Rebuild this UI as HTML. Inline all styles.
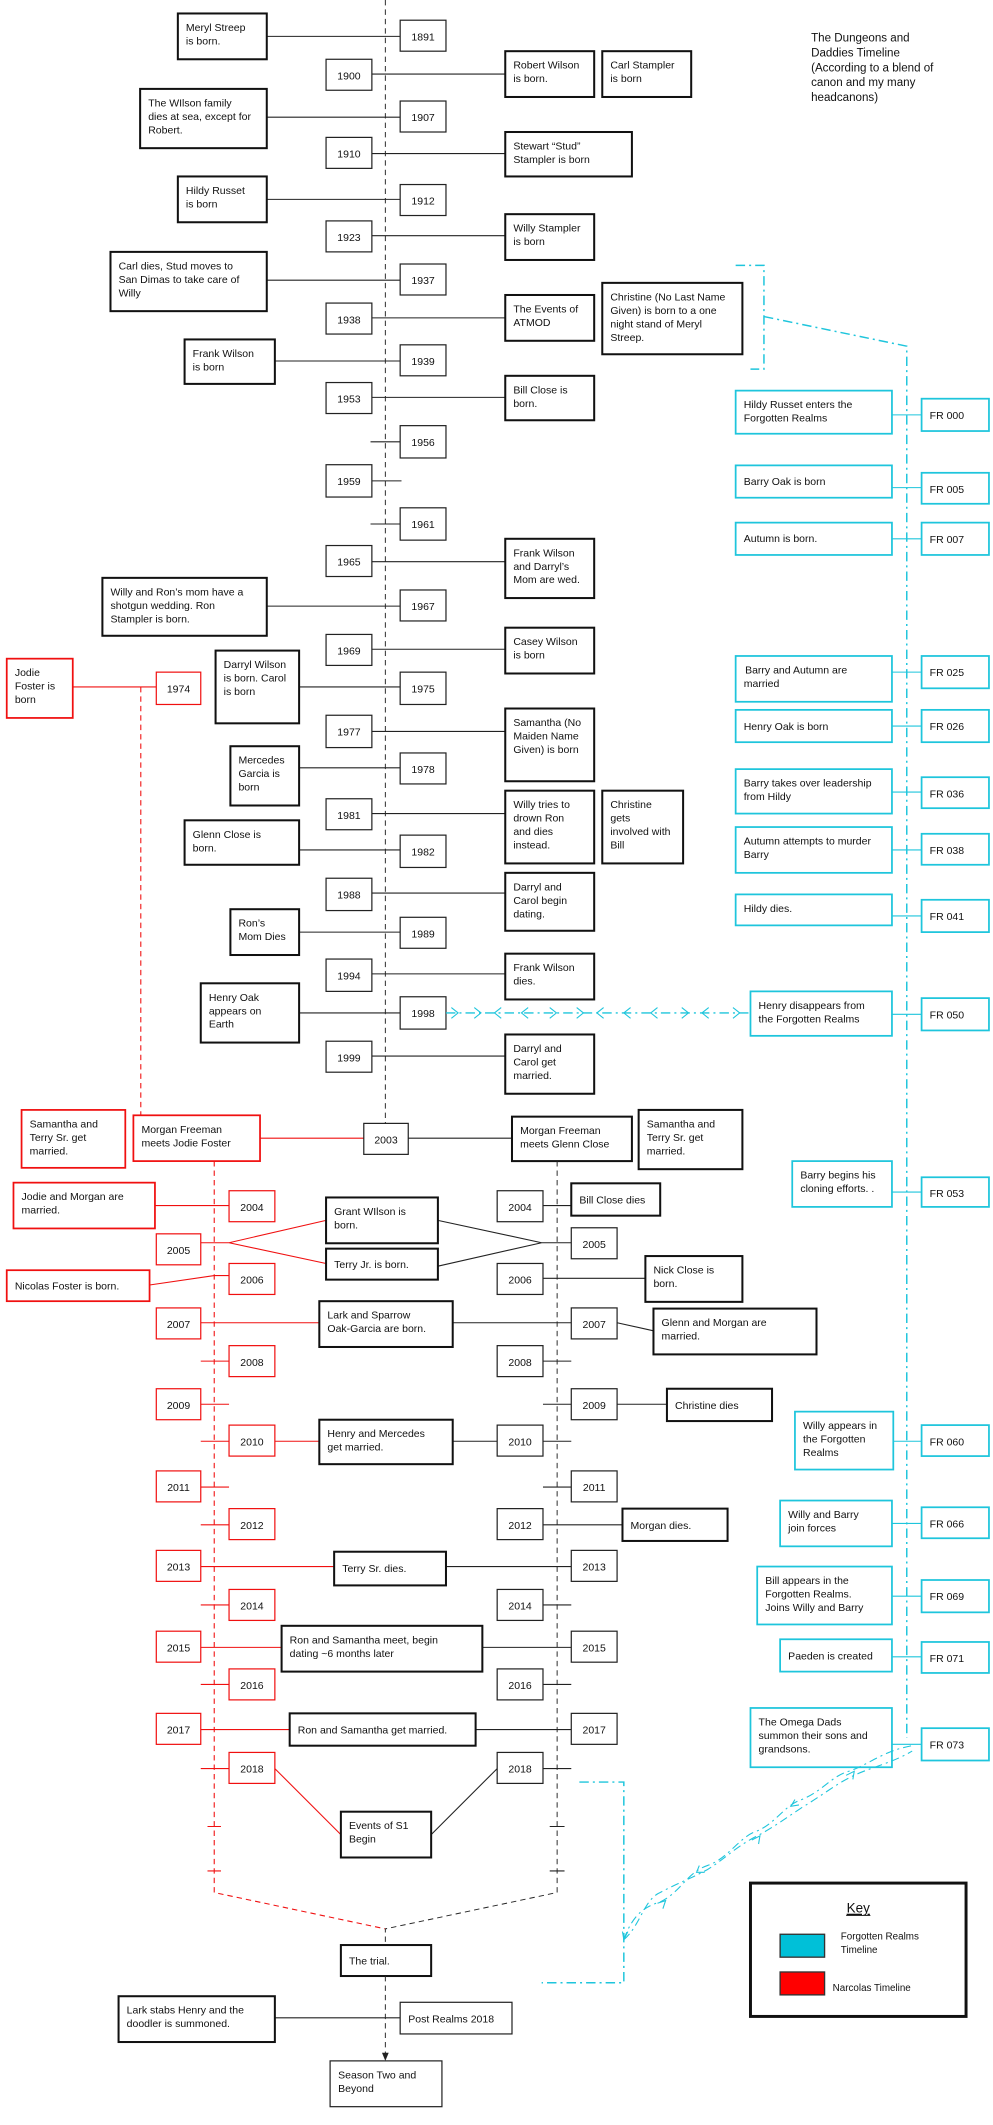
<!DOCTYPE html>
<html><head><meta charset="utf-8">
<style>
html,body{margin:0;padding:0;background:#fff;}
svg{display:block;}
text{font-family:"Liberation Sans",Arial,sans-serif;font-size:7.8px;fill:#111;}
.b{fill:#fff;stroke:#111;stroke-width:1.5;}
.y{fill:#fff;stroke:#222;stroke-width:0.9;}
.r{fill:#fff;stroke:#f01010;stroke-width:1.3;}
.ry{fill:#fff;stroke:#f01010;stroke-width:0.9;}
.c{fill:#fff;stroke:#1ec5dc;stroke-width:1.3;}
.l{stroke:#222;stroke-width:0.8;fill:none;}
.lr{stroke:#f01010;stroke-width:0.8;fill:none;}
.lc{stroke:#1ec5dc;stroke-width:0.8;fill:none;}
.d{stroke:#222;stroke-width:0.7;stroke-dasharray:4 3;fill:none;}
.dr{stroke:#f01010;stroke-width:0.8;stroke-dasharray:4 3;fill:none;}
.dc{stroke:#1ec5dc;stroke-width:1.1;stroke-dasharray:7 3 1.5 3;fill:none;}
.ct{text-anchor:middle;}
</style></head>
<body>
<svg width="993" height="2125" viewBox="0 0 737 1577.6" preserveAspectRatio="none" xmlns="http://www.w3.org/2000/svg">
<!-- main center dashed line -->
<path class="d" d="M286,0 V834"/>

<!-- title -->
<text x="602" y="31" style="font-size:8.6px">The Dungeons and</text>
<text x="602" y="42" style="font-size:8.6px">Daddies Timeline</text>
<text x="602" y="53" style="font-size:8.6px">(According to a blend of</text>
<text x="602" y="64" style="font-size:8.6px">canon and my many</text>
<text x="602" y="75" style="font-size:8.6px">headcanons)</text>

<!-- connector lines top section -->
<g class="l">
<path d="M198,27 H297"/><path d="M276,55 H375"/><path d="M198,87 H297"/>
<path d="M276,114 H375"/><path d="M198,148 H297"/><path d="M276,175 H375"/>
<path d="M198,208 H297"/><path d="M276,236 H375"/><path d="M204,268 H297"/>
<path d="M276,295 H375"/><path d="M275,328 H297"/><path d="M276,357 H298"/>
<path d="M275,389 H297"/><path d="M276,417 H375"/><path d="M198,450 H297"/>
<path d="M276,482 H375"/><path d="M222,510 H297"/><path d="M276,543 H375"/>
<path d="M222,570 H297"/><path d="M276,604 H375"/><path d="M222,631 H297"/>
<path d="M276,663 H375"/><path d="M222,692 H297"/><path d="M276,723 H375"/>
<path d="M222,752 H297"/><path d="M276,784 H375"/>
</g>

<!-- year boxes top -->
<g>
<rect class="y" x="297" y="15" width="34" height="23"/><text class="ct" x="314" y="30">1891</text>
<rect class="y" x="242" y="44" width="34" height="23"/><text class="ct" x="259" y="59">1900</text>
<rect class="y" x="297" y="75" width="34" height="23"/><text class="ct" x="314" y="90">1907</text>
<rect class="y" x="242" y="102" width="34" height="23"/><text class="ct" x="259" y="117">1910</text>
<rect class="y" x="297" y="137" width="34" height="23"/><text class="ct" x="314" y="152">1912</text>
<rect class="y" x="242" y="164" width="34" height="23"/><text class="ct" x="259" y="179">1923</text>
<rect class="y" x="297" y="196" width="34" height="23"/><text class="ct" x="314" y="211">1937</text>
<rect class="y" x="242" y="225" width="34" height="23"/><text class="ct" x="259" y="240">1938</text>
<rect class="y" x="297" y="256" width="34" height="23"/><text class="ct" x="314" y="271">1939</text>
<rect class="y" x="242" y="284" width="34" height="23"/><text class="ct" x="259" y="299">1953</text>
<rect class="y" x="297" y="316" width="34" height="24"/><text class="ct" x="314" y="331">1956</text>
<rect class="y" x="242" y="345" width="34" height="24"/><text class="ct" x="259" y="360">1959</text>
<rect class="y" x="297" y="377" width="34" height="24"/><text class="ct" x="314" y="392">1961</text>
<rect class="y" x="242" y="405" width="34" height="23"/><text class="ct" x="259" y="420">1965</text>
<rect class="y" x="297" y="438" width="34" height="23"/><text class="ct" x="314" y="453">1967</text>
<rect class="y" x="242" y="471" width="34" height="23"/><text class="ct" x="259" y="486">1969</text>
<rect class="y" x="297" y="499" width="34" height="24"/><text class="ct" x="314" y="514">1975</text>
<rect class="y" x="242" y="531" width="34" height="24"/><text class="ct" x="259" y="546">1977</text>
<rect class="y" x="297" y="559" width="34" height="23"/><text class="ct" x="314" y="574">1978</text>
<rect class="y" x="242" y="593" width="34" height="23"/><text class="ct" x="259" y="608">1981</text>
<rect class="y" x="297" y="620" width="34" height="24"/><text class="ct" x="314" y="635">1982</text>
<rect class="y" x="242" y="652" width="34" height="24"/><text class="ct" x="259" y="667">1988</text>
<rect class="y" x="297" y="681" width="34" height="23"/><text class="ct" x="314" y="696">1989</text>
<rect class="y" x="242" y="712" width="34" height="24"/><text class="ct" x="259" y="727">1994</text>
<rect class="y" x="297" y="740" width="34" height="24"/><text class="ct" x="314" y="755">1998</text>
<rect class="y" x="242" y="773" width="34" height="23"/><text class="ct" x="259" y="788">1999</text>
</g>

<!-- event boxes top -->
<rect class="b" x="132" y="10" width="66" height="34"/><text x="138" y="23">Meryl Streep</text><text x="138" y="33">is born.</text>
<rect class="b" x="375" y="38" width="66" height="34"/><text x="381" y="51">Robert Wilson</text><text x="381" y="61">is born.</text>
<rect class="b" x="447" y="38" width="66" height="34"/><text x="453" y="51">Carl Stampler</text><text x="453" y="61">is born</text>
<rect class="b" x="104" y="66" width="94" height="44"/><text x="110" y="79">The WIlson family</text><text x="110" y="89">dies at sea, except for</text><text x="110" y="99">Robert.</text>
<rect class="b" x="375" y="98" width="94" height="33"/><text x="381" y="111">Stewart “Stud”</text><text x="381" y="121">Stampler is born</text>
<rect class="b" x="132" y="131" width="66" height="34"/><text x="138" y="144">Hildy Russet</text><text x="138" y="154">is born</text>
<rect class="b" x="375" y="159" width="66" height="34"/><text x="381" y="172">Willy Stampler</text><text x="381" y="182">is born</text>
<rect class="b" x="82" y="187" width="116" height="44"/><text x="88" y="200">Carl dies, Stud moves to</text><text x="88" y="210">San Dimas to take care of</text><text x="88" y="220">Willy</text>
<rect class="b" x="375" y="219" width="66" height="34"/><text x="381" y="232">The Events of</text><text x="381" y="242">ATMOD</text>
<rect class="b" x="447" y="210" width="104" height="53"/><text x="453" y="223">Christine (No Last Name</text><text x="453" y="233">Given) is born to a one</text><text x="453" y="243">night stand of Meryl</text><text x="453" y="253">Streep.</text>
<rect class="b" x="137" y="252" width="67" height="33"/><text x="143" y="265">Frank Wilson</text><text x="143" y="275">is born</text>
<rect class="b" x="375" y="279" width="66" height="33"/><text x="381" y="292">Bill Close is</text><text x="381" y="302">born.</text>
<rect class="b" x="375" y="400" width="66" height="44"/><text x="381" y="413">Frank Wilson</text><text x="381" y="423">and Darryl’s</text><text x="381" y="433">Mom are wed.</text>
<rect class="b" x="76" y="429" width="122" height="43"/><text x="82" y="442">Willy and Ron’s mom have a</text><text x="82" y="452">shotgun wedding. Ron</text><text x="82" y="462">Stampler is born.</text>
<rect class="b" x="375" y="466" width="66" height="34"/><text x="381" y="479">Casey Wilson</text><text x="381" y="489">is born</text>
<rect class="b" x="160" y="483" width="62" height="54"/><text x="166" y="496">Darryl Wilson</text><text x="166" y="506">is born. Carol</text><text x="166" y="516">is born</text>
<rect class="b" x="375" y="526" width="66" height="54"/><text x="381" y="539">Samantha (No</text><text x="381" y="549">Maiden Name</text><text x="381" y="559">Given) is born</text>
<rect class="b" x="171" y="554" width="51" height="44"/><text x="177" y="567">Mercedes</text><text x="177" y="577">Garcia is</text><text x="177" y="587">born</text>
<rect class="b" x="375" y="587" width="66" height="54"/><text x="381" y="600">Willy tries to</text><text x="381" y="610">drown Ron</text><text x="381" y="620">and dies</text><text x="381" y="630">instead.</text>
<rect class="b" x="447" y="587" width="60" height="54"/><text x="453" y="600">Christine</text><text x="453" y="610">gets</text><text x="453" y="620">involved with</text><text x="453" y="630">Bill</text>
<rect class="b" x="137" y="609" width="85" height="33"/><text x="143" y="622">Glenn Close is</text><text x="143" y="632">born.</text>
<rect class="b" x="375" y="648" width="66" height="43"/><text x="381" y="661">Darryl and</text><text x="381" y="671">Carol begin</text><text x="381" y="681">dating.</text>
<rect class="b" x="171" y="675" width="51" height="34"/><text x="177" y="688">Ron’s</text><text x="177" y="698">Mom Dies</text>
<rect class="b" x="375" y="708" width="66" height="34"/><text x="381" y="721">Frank Wilson</text><text x="381" y="731">dies.</text>
<rect class="b" x="149" y="730" width="73" height="44"/><text x="155" y="743">Henry Oak</text><text x="155" y="753">appears on</text><text x="155" y="763">Earth</text>
<rect class="b" x="375" y="768" width="66" height="44"/><text x="381" y="781">Darryl and</text><text x="381" y="791">Carol get</text><text x="381" y="801">married.</text>

<!-- Jodie / 1974 red -->
<path class="lr" d="M54,510 H116"/>
<path class="dr" d="M104.5,510 V828"/>
<rect class="r" x="5" y="489" width="49" height="44"/><text x="11" y="502">Jodie</text><text x="11" y="512">Foster is</text><text x="11" y="522">born</text>
<rect class="ry" x="116" y="499" width="33" height="24"/><text class="ct" x="132.5" y="514">1974</text>

<!-- cyan arrow 1998 -> Henry disappears -->
<path class="dc" d="M331,752 H557"/>
<g class="lc" stroke-width="1">
<path d="M335,748 l5,4 l-5,4"/><path d="M352,748 l5,4 l-5,4"/><path d="M372,748 l-5,4 l5,4"/>
<path d="M392,748 l-5,4 l5,4"/><path d="M408,748 l5,4 l-5,4"/><path d="M428,748 l5,4 l-5,4"/>
<path d="M448,748 l-5,4 l5,4"/><path d="M468,748 l-5,4 l5,4"/><path d="M488,748 l-5,4 l5,4"/>
<path d="M506,748 l5,4 l-5,4"/><path d="M526,748 l-5,4 l5,4"/><path d="M544,748 l5,4 l-5,4"/>
</g>

<!-- 2003 section -->
<path class="lr" d="M193,845 H270"/>
<path class="l" d="M303,845 H380"/>
<rect class="r" x="16" y="824" width="77" height="43"/><text x="22" y="837">Samantha and</text><text x="22" y="847">Terry Sr. get</text><text x="22" y="857">married.</text>
<rect class="r" x="99" y="828" width="94" height="34"/><text x="105" y="841">Morgan Freeman</text><text x="105" y="851">meets Jodie Foster</text>
<rect class="y" x="270" y="834" width="33" height="23"/><text class="ct" x="286.5" y="849">2003</text>
<rect class="b" x="380" y="829" width="89" height="33"/><text x="386" y="842">Morgan Freeman</text><text x="386" y="852">meets Glenn Close</text>
<rect class="b" x="474" y="824" width="77" height="44"/><text x="480" y="837">Samantha and</text><text x="480" y="847">Terry Sr. get</text><text x="480" y="857">married.</text>

<!-- two dashed timelines -->
<path class="dr" d="M159,862 V1405 L286,1432"/>
<path class="d" d="M413.5,862 V1405 L286,1432 V1444"/>

<!-- lower connectors red -->
<g class="lr">
<path d="M115,895 H170"/>
<path d="M149,922.6 H170 L242,906 M170,922.6 L242,938"/>
<path d="M111,954 L159,947 H170"/>
<path d="M149,982 H237"/>
<path d="M149,1010.5 H170"/><path d="M149,1042.5 H170"/>
<path d="M149,1070 H170 M204,1070 H237"/>
<path d="M149,1104 H170"/><path d="M149,1132 H170"/>
<path d="M149,1163 H248"/>
<path d="M149,1191.5 H170"/>
<path d="M149,1223 H209"/>
<path d="M149,1250.5 H170"/>
<path d="M149,1284 H215"/>
<path d="M149,1313 H170"/>
<path d="M204,1313 L253,1362"/>
<path d="M154,1356 H164 M154,1389 H164"/>
</g>
<!-- lower connectors black -->
<g class="l">
<path d="M403,895 H424"/>
<path d="M325,906 L402,922.6 L325,940 M402,922.6 H424"/>
<path d="M403,949 H479"/>
<path d="M336,982 H424"/>
<path d="M458,982 L485,988"/>
<path d="M403,1010.5 H424"/>
<path d="M403,1042.5 H495"/>
<path d="M336,1070 H369 M403,1070 H424"/>
<path d="M403,1104 H424"/>
<path d="M403,1132 H462"/>
<path d="M331,1163 H424"/>
<path d="M403,1191.5 H424"/>
<path d="M358,1223 H424"/>
<path d="M403,1250.5 H424"/>
<path d="M353,1284 H424"/>
<path d="M403,1313 H424"/>
<path d="M369,1313 L320,1362"/>
<path d="M408,1356 H419 M408,1389 H419"/>
</g>

<!-- lower year boxes -->
<g>
<rect class="ry" x="170" y="884" width="34" height="23"/><text class="ct" x="187" y="899">2004</text>
<rect class="ry" x="116" y="916" width="33" height="23"/><text class="ct" x="132.5" y="931">2005</text>
<rect class="ry" x="170" y="938" width="34" height="23"/><text class="ct" x="187" y="953">2006</text>
<rect class="ry" x="116" y="971" width="33" height="23"/><text class="ct" x="132.5" y="986">2007</text>
<rect class="ry" x="170" y="999" width="34" height="23"/><text class="ct" x="187" y="1014">2008</text>
<rect class="ry" x="116" y="1031" width="33" height="23"/><text class="ct" x="132.5" y="1046">2009</text>
<rect class="ry" x="170" y="1058" width="34" height="23"/><text class="ct" x="187" y="1073">2010</text>
<rect class="ry" x="116" y="1092" width="33" height="23"/><text class="ct" x="132.5" y="1107">2011</text>
<rect class="ry" x="170" y="1120" width="34" height="23"/><text class="ct" x="187" y="1135">2012</text>
<rect class="ry" x="116" y="1151" width="33" height="23"/><text class="ct" x="132.5" y="1166">2013</text>
<rect class="ry" x="170" y="1180" width="34" height="23"/><text class="ct" x="187" y="1195">2014</text>
<rect class="ry" x="116" y="1211" width="33" height="23"/><text class="ct" x="132.5" y="1226">2015</text>
<rect class="ry" x="170" y="1239" width="34" height="23"/><text class="ct" x="187" y="1254">2016</text>
<rect class="ry" x="116" y="1272" width="33" height="23"/><text class="ct" x="132.5" y="1287">2017</text>
<rect class="ry" x="170" y="1301" width="34" height="23"/><text class="ct" x="187" y="1316">2018</text>

<rect class="y" x="369" y="884" width="34" height="23"/><text class="ct" x="386" y="899">2004</text>
<rect class="y" x="424" y="911.5" width="34" height="23"/><text class="ct" x="441" y="926.5">2005</text>
<rect class="y" x="369" y="938" width="34" height="23"/><text class="ct" x="386" y="953">2006</text>
<rect class="y" x="424" y="971" width="34" height="23"/><text class="ct" x="441" y="986">2007</text>
<rect class="y" x="369" y="999" width="34" height="23"/><text class="ct" x="386" y="1014">2008</text>
<rect class="y" x="424" y="1031" width="34" height="23"/><text class="ct" x="441" y="1046">2009</text>
<rect class="y" x="369" y="1058" width="34" height="23"/><text class="ct" x="386" y="1073">2010</text>
<rect class="y" x="424" y="1092" width="34" height="23"/><text class="ct" x="441" y="1107">2011</text>
<rect class="y" x="369" y="1120" width="34" height="23"/><text class="ct" x="386" y="1135">2012</text>
<rect class="y" x="424" y="1151" width="34" height="23"/><text class="ct" x="441" y="1166">2013</text>
<rect class="y" x="369" y="1180" width="34" height="23"/><text class="ct" x="386" y="1195">2014</text>
<rect class="y" x="424" y="1211" width="34" height="23"/><text class="ct" x="441" y="1226">2015</text>
<rect class="y" x="369" y="1239" width="34" height="23"/><text class="ct" x="386" y="1254">2016</text>
<rect class="y" x="424" y="1272" width="34" height="23"/><text class="ct" x="441" y="1287">2017</text>
<rect class="y" x="369" y="1301" width="34" height="23"/><text class="ct" x="386" y="1316">2018</text>
</g>

<!-- lower event boxes -->
<rect class="r" x="10" y="878" width="105" height="34"/><text x="16" y="891">Jodie and Morgan are</text><text x="16" y="901">married.</text>
<rect class="r" x="5" y="943" width="106" height="23"/><text x="11" y="957.5">Nicolas Foster is born.</text>
<rect class="b" x="424" y="878.5" width="66" height="24"/><text x="430" y="893.5">Bill Close dies</text>
<rect class="b" x="242" y="889" width="83" height="34"/><text x="248" y="902">Grant WIlson is</text><text x="248" y="912">born.</text>
<rect class="b" x="242" y="927" width="83" height="23"/><text x="248" y="941.5">Terry Jr.  is born.</text>
<rect class="b" x="479" y="932.5" width="72" height="34"/><text x="485" y="945.5">Nick Close is</text><text x="485" y="955.5">born.</text>
<rect class="b" x="237" y="966" width="99" height="34"/><text x="243" y="979">Lark and Sparrow</text><text x="243" y="989">Oak-Garcia are born.</text>
<rect class="b" x="485" y="971.5" width="121" height="34"/><text x="491" y="984.5">Glenn and Morgan are</text><text x="491" y="994.5">married.</text>
<rect class="b" x="495" y="1031" width="78" height="24"/><text x="501" y="1046">Christine dies</text>
<rect class="b" x="237" y="1054" width="99" height="33"/><text x="243" y="1067">Henry and Mercedes</text><text x="243" y="1077">get married.</text>
<rect class="b" x="462" y="1120" width="78" height="24"/><text x="468" y="1135">Morgan dies.</text>
<rect class="b" x="248" y="1152" width="83" height="25"/><text x="254" y="1167">Terry Sr. dies.</text>
<rect class="b" x="209" y="1207" width="149" height="34"/><text x="215" y="1220">Ron and Samantha meet, begin</text><text x="215" y="1230">dating ~6 months later</text>
<rect class="b" x="215" y="1272" width="138" height="24"/><text x="221" y="1287">Ron and Samantha get married.</text>
<rect class="b" x="253" y="1345" width="67" height="34"/><text x="259" y="1358">Events of S1</text><text x="259" y="1368">Begin</text>

<!-- trial and after -->
<rect class="b" x="253" y="1444" width="67" height="23"/><text x="259" y="1458.5">The trial.</text>
<path class="d" d="M286,1467 V1526"/>
<path d="M283.5,1524 L286,1530 L288.5,1524 Z" fill="#222"/>
<path class="l" d="M204,1498 H297"/>
<rect class="b" x="88" y="1482" width="116" height="34"/><text x="94" y="1495">Lark stabs Henry and the</text><text x="94" y="1505">doodler is summoned.</text>
<rect class="y" x="297" y="1486.5" width="83" height="23.5"/><text x="303" y="1501.5">Post Realms 2018</text>
<rect class="y" x="245" y="1530" width="83" height="34"/><text x="251" y="1543">Season Two and</text><text x="251" y="1553">Beyond</text>

<!-- cyan column -->
<path class="dc" d="M546,197 H567 V274 H557"/>
<path class="dc" d="M567,235 L673,257 V1290"/>
<g class="lc">
<path d="M662,308 H684"/><path d="M662,362 H684"/><path d="M662,400 H684"/>
<path d="M662,499 H684"/><path d="M662,539 H684"/><path d="M662,588 H684"/>
<path d="M662,631 H684"/><path d="M662,680 H684"/><path d="M662,753 H684"/>
<path d="M662,885 H684"/><path d="M663,1070 H684"/><path d="M662,1131 H684"/>
<path d="M662,1185 H684"/><path d="M662,1230 H684"/><path d="M662,1295 H684"/>
</g>
<g>
<rect class="c" x="546" y="290" width="116" height="32"/><text x="552" y="303">Hildy Russet enters the</text><text x="552" y="313">Forgotten Realms</text>
<rect class="c" x="684" y="296" width="50" height="24"/><text x="690" y="311">FR 000</text>
<rect class="c" x="546" y="345.5" width="116" height="24"/><text x="552" y="360">Barry Oak is born</text>
<rect class="c" x="684" y="351" width="50" height="23"/><text x="690" y="366">FR 005</text>
<rect class="c" x="546" y="388" width="116" height="24"/><text x="552" y="402.5">Autumn is born.</text>
<rect class="c" x="684" y="388" width="50" height="24"/><text x="690" y="403">FR 007</text>
<rect class="c" x="546" y="487" width="116" height="34"/><text x="553" y="500">Barry and Autumn are</text><text x="552" y="510">married</text>
<rect class="c" x="684" y="487" width="50" height="24"/><text x="690" y="502">FR 025</text>
<rect class="c" x="546" y="527" width="116" height="24"/><text x="552" y="542">Henry Oak is born</text>
<rect class="c" x="684" y="527" width="50" height="24"/><text x="690" y="542">FR 026</text>
<rect class="c" x="546" y="571" width="116" height="33"/><text x="552" y="584">Barry takes over leadership</text><text x="552" y="594">from Hildy</text>
<rect class="c" x="684" y="577" width="50" height="23"/><text x="690" y="592">FR 036</text>
<rect class="c" x="546" y="614" width="116" height="34"/><text x="552" y="627">Autumn attempts to murder</text><text x="552" y="637">Barry</text>
<rect class="c" x="684" y="619" width="50" height="23"/><text x="690" y="634">FR 038</text>
<rect class="c" x="546" y="664" width="116" height="23"/><text x="552" y="677">Hildy dies.</text>
<rect class="c" x="684" y="668" width="50" height="24"/><text x="690" y="683">FR 041</text>
<rect class="c" x="557" y="736" width="105" height="33"/><text x="563" y="749">Henry disappears from</text><text x="563" y="759">the Forgotten Realms</text>
<rect class="c" x="684" y="741" width="50" height="24"/><text x="690" y="756">FR 050</text>
<rect class="c" x="588" y="862" width="74" height="34"/><text x="594" y="875">Barry begins his</text><text x="594" y="885">cloning efforts. .</text>
<rect class="c" x="684" y="874" width="50" height="22"/><text x="690" y="888.5">FR 053</text>
<rect class="c" x="590" y="1048" width="73" height="43"/><text x="596" y="1061">Willy appears in</text><text x="596" y="1071">the Forgotten</text><text x="596" y="1081">Realms</text>
<rect class="c" x="684" y="1058" width="50" height="23"/><text x="690" y="1073">FR 060</text>
<rect class="c" x="579" y="1114" width="83" height="34"/><text x="585" y="1127">Willy and Barry</text><text x="585" y="1137">join forces</text>
<rect class="c" x="684" y="1119" width="50" height="23"/><text x="690" y="1134">FR 066</text>
<rect class="c" x="562" y="1163" width="100" height="43"/><text x="568" y="1176">Bill appears in the</text><text x="568" y="1186">Forgotten Realms.</text><text x="568" y="1196">Joins Willy and Barry</text>
<rect class="c" x="684" y="1173" width="50" height="24"/><text x="690" y="1188">FR 069</text>
<rect class="c" x="579" y="1217" width="83" height="24"/><text x="585" y="1232">Paeden is created</text>
<rect class="c" x="684" y="1219" width="50" height="23"/><text x="690" y="1234">FR 071</text>
<rect class="c" x="557" y="1268" width="105" height="44"/><text x="563" y="1281">The Omega Dads</text><text x="563" y="1291">summon their sons and</text><text x="563" y="1301">grandsons.</text>
<rect class="c" x="684" y="1283" width="50" height="24"/><text x="690" y="1298">FR 073</text>
</g>

<!-- lower cyan bracket and twisted arrows -->
<path class="dc" d="M430,1323 H463 V1472 H402"/>
<path class="lc" stroke-dasharray="6 3 1.5 3" stroke-width="1.1" d="M463,1440 C470,1420 480,1415 490,1412 C505,1405 510,1390 525,1385 C540,1380 548,1365 560,1360 C575,1355 582,1340 595,1336 C610,1330 618,1318 630,1315 C645,1310 655,1300 677,1296"/>
<path class="lc" stroke-dasharray="6 3 1.5 3" stroke-width="1.1" d="M463,1440 C475,1430 478,1410 490,1405 C503,1398 512,1395 525,1388 C538,1380 545,1372 560,1364 C572,1358 583,1350 595,1342 C610,1333 620,1325 630,1320 C645,1312 660,1310 677,1300"/>
<g class="lc" stroke-width="1">
<path d="M488,1413 l6,-2 l-2,6"/><path d="M523,1390 l-6,0 l2,-5"/><path d="M558,1366 l6,-3 l-1,6"/>
<path d="M593,1340 l-6,1 l3,-5"/><path d="M628,1318 l6,-3 l-1,6"/><path d="M466,1434 l-3,6 l-1,-6"/>
</g>

<!-- key -->
<rect x="557" y="1398" width="160" height="99" fill="#fff" stroke="#111" stroke-width="2.2"/>
<text class="ct" x="637" y="1420" style="font-size:10px;text-decoration:underline">Key</text>
<path d="M628,1422 H646" stroke="#111" stroke-width="0.7"/>
<rect x="579" y="1436" width="33" height="17" fill="#00c0d8" stroke="#333" stroke-width="1"/>
<text x="624" y="1440" style="font-size:7.3px">Forgotten Realms</text>
<text x="624" y="1450" style="font-size:7.3px">Timeline</text>
<rect x="579" y="1464" width="33" height="17" fill="#ff0000" stroke="#333" stroke-width="1"/>
<text x="618" y="1478" style="font-size:7.3px">Narcolas Timeline</text>
</svg>
</body></html>
